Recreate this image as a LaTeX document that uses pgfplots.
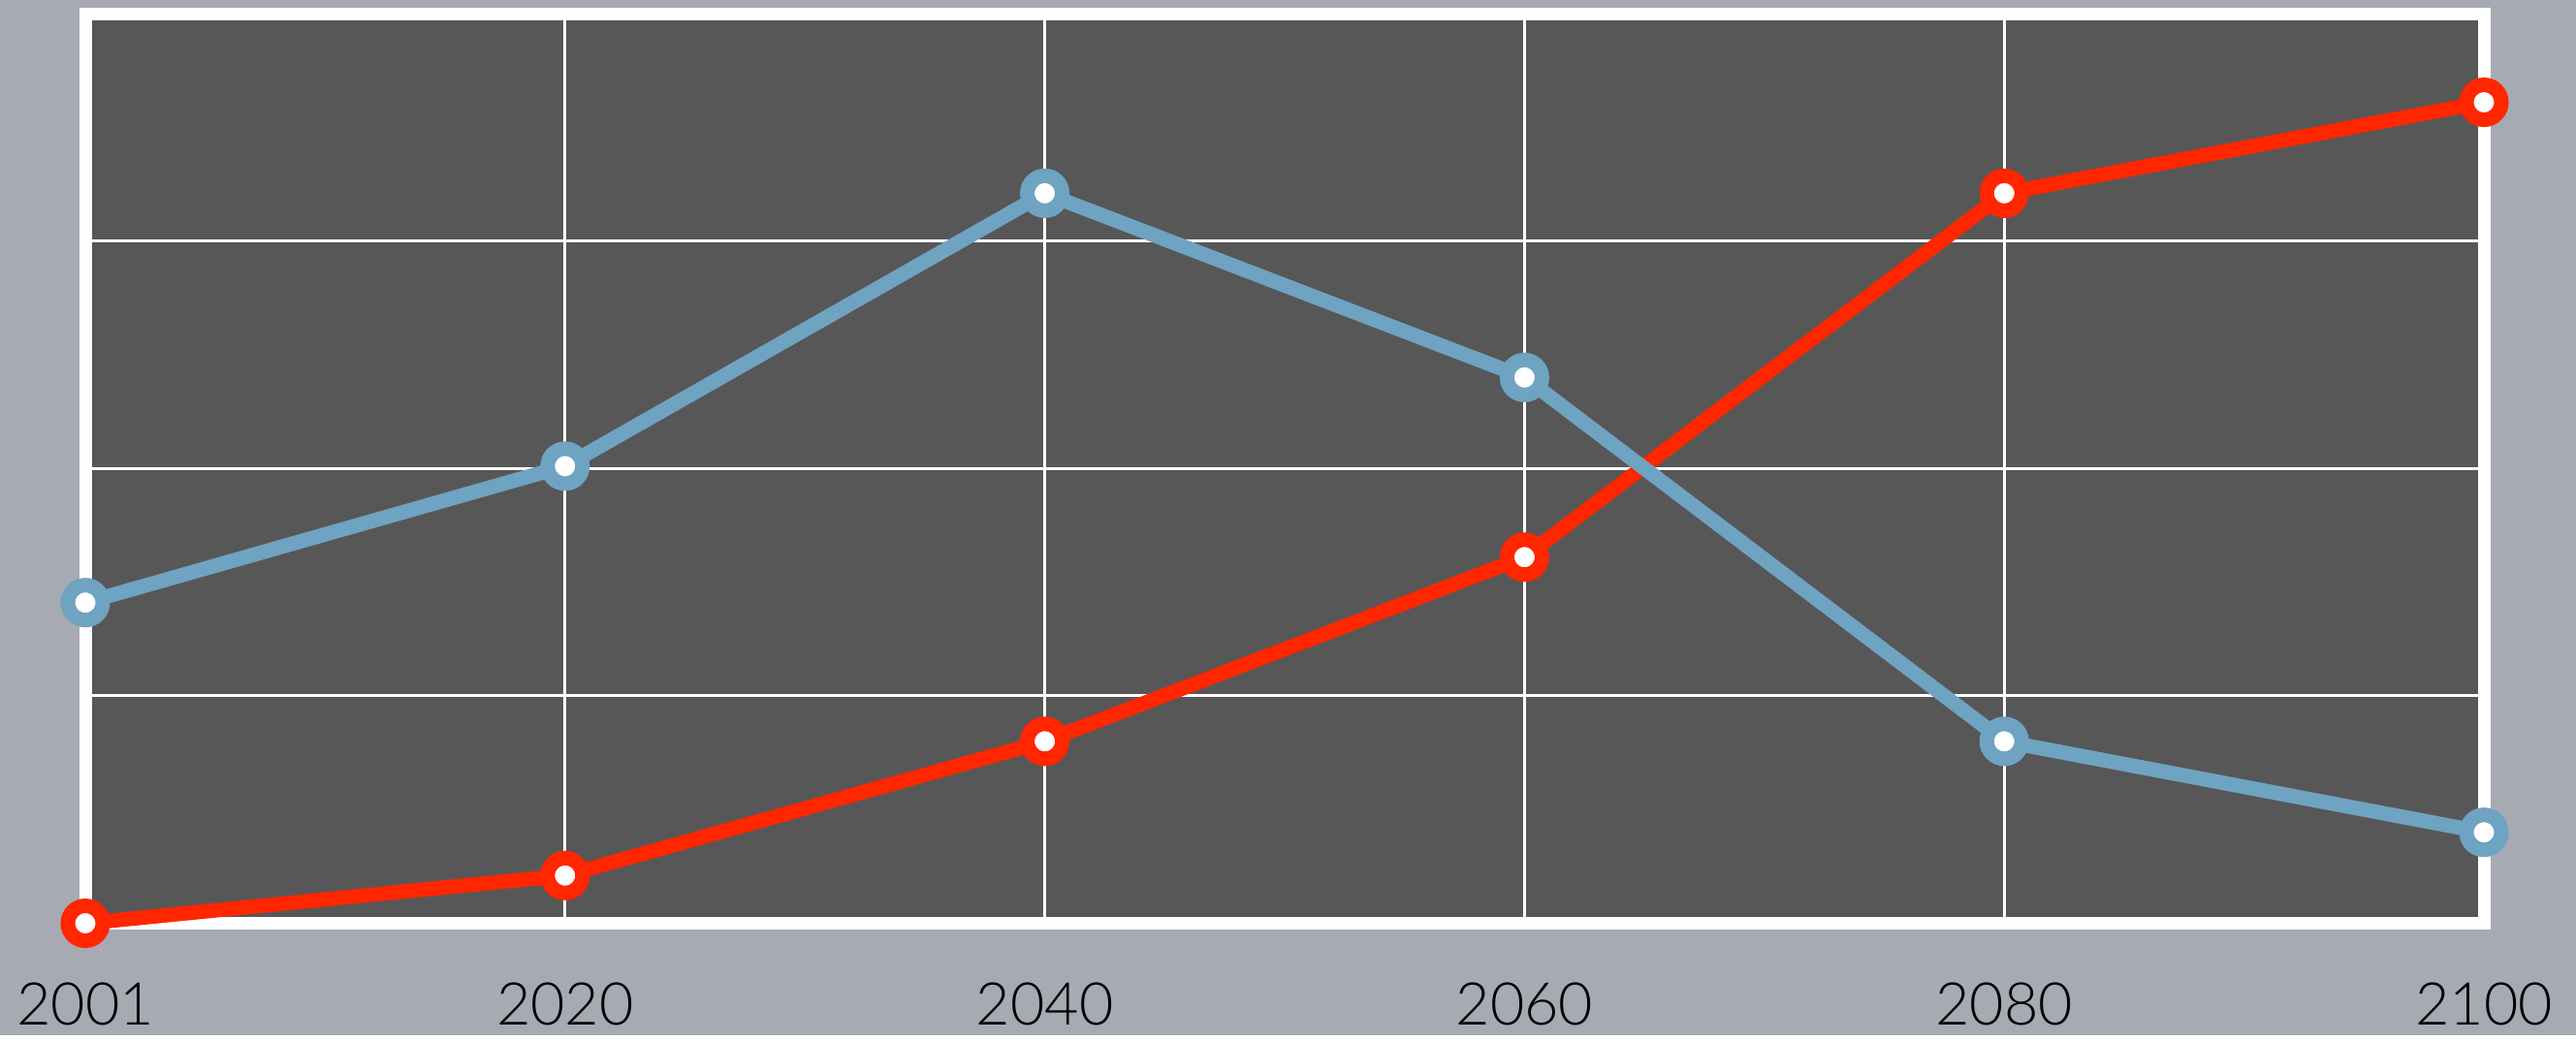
\documentclass[border=0pt]{standalone}
\usepackage{pgfplots}
\pgfplotsset{compat=1.18}
\usepackage{fontspec}
\setmainfont{Lato}[UprightFont=* Light]

\definecolor{pagebg}{HTML}{A7AAB2}
\definecolor{plotbg}{HTML}{575757}
\definecolor{serblue}{HTML}{6FA3C2}
\definecolor{serred}{HTML}{FF2600}

\begin{document}
\begin{tikzpicture}
    % page background, 1px = 0.2pt
    \fill[pagebg] (0,0) rectangle (531.4pt,213.6pt);

    \begin{axis}[
        at={(17.6pt,23.1pt)},
        anchor=south west,
        scale only axis,
        width=494.8pt,
        height=187.7pt,
        xmin=0, xmax=5,
        ymin=0, ymax=4,
        xtick={0,1,2,3,4,5},
        xticklabels={2001,2020,2040,2060,2080,2100},
        ytick={1,2,3},
        yticklabels={},
        major tick length=0pt,
        grid=major,
        major grid style={white, line width=0.6pt},
        axis line style={white, line width=2.6pt},
        axis background/.style={fill=plotbg},
        xticklabel style={
            anchor=base,
            yshift=-20.9pt,
            font=\fontsize{12.2pt}{14pt}\selectfont,
            text=black,
        },
        clip=false,
    ]

    \addplot[
        color=serred,
        line width=3pt,
        mark=*,
        mark size=3.6pt,
        mark options={fill=white, draw=serred, line width=3pt},
    ] coordinates {
        (0,0) (1,0.21) (2,0.80) (3,1.61) (4,3.21) (5,3.61)
    };

    \addplot[
        color=serblue,
        line width=3pt,
        mark=*,
        mark size=3.6pt,
        mark options={fill=white, draw=serblue, line width=3pt},
    ] coordinates {
        (0,1.41) (1,2.01) (2,3.21) (3,2.40) (4,0.80) (5,0.40)
    };

    \end{axis}
\end{tikzpicture}
\end{document}
